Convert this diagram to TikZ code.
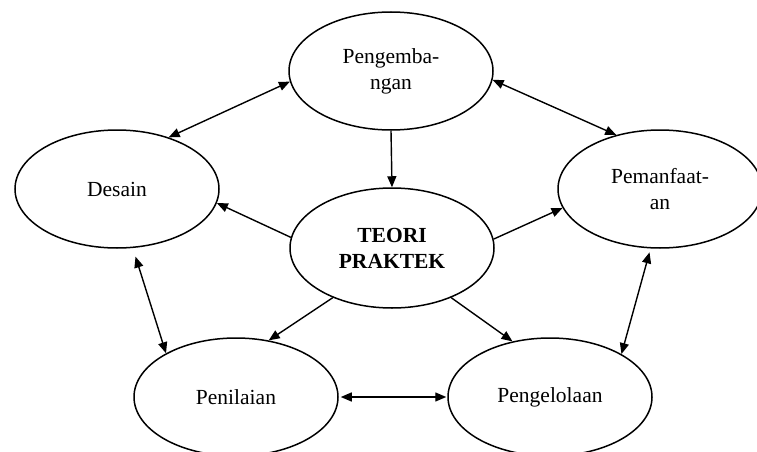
\documentclass[tikz,border=0pt]{standalone}
\usepackage{fontspec}
\setmainfont{Liberation Serif}
\usetikzlibrary{shapes.geometric,arrows.meta}
\begin{document}
\begin{tikzpicture}[x=1pt,y=-1pt,
  oval/.style={draw,line width=1.5pt,ellipse,minimum width=204pt,minimum height=118pt,inner sep=0pt,align=center,font=\fontsize{21.5}{26}\selectfont},
  conn/.style={line width=1.4pt,-{Triangle[length=11pt,width=9pt]}},
  bconn/.style={line width=1.4pt,{Triangle[length=11pt,width=9pt]}-{Triangle[length=11pt,width=9pt]}}]
\useasboundingbox[fill=white] (0,0) rectangle (757,452);
\node[oval] (peng) at (391,71) {Pengemba-\\ngan};
\node[oval] (des) at (117,189) {Desain};
\node[oval] (man) at (660,189) {Pemanfaat-\\an};
\node[oval,minimum height=120pt] (teori) at (392,248) {\bfseries TEORI\\\bfseries PRAKTEK};
\node[oval] (nil) at (236,397) {Penilaian};
\node[oval] (kel) at (550,397) {Pengelolaan};
\draw[bconn] (peng.186) -- (des.45);
\draw[bconn] (peng.355) -- (man.129);
\draw[conn] (peng.south) -- (teori.north);
\draw[conn] (teori.174) -- (des.352);
\draw[conn] (teori.5) -- (man.191);
\draw[conn] (teori.220) -- (nil.60);
\draw[conn] (teori.320) -- (kel.124);
\draw[bconn,shorten <=9pt] (des.285) -- (nil.148);
\draw[bconn,shorten <=4pt] (man.261) -- (kel.31);
\draw[bconn,shorten <=2pt,shorten >=1pt] (nil.east) -- (kel.west);
\end{tikzpicture}
\end{document}
